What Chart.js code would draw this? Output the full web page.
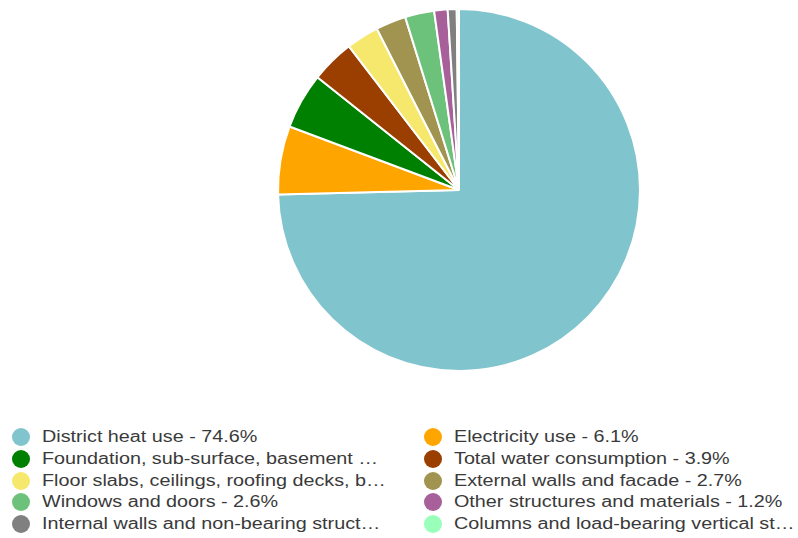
<!DOCTYPE html>
<html>
<head>
<meta charset="utf-8">
<script src="https://cdn.jsdelivr.net/npm/chart.js@4/dist/chart.umd.min.js"></script>
<style>
  html, body { margin: 0; padding: 0; background: #fff; }
  #wrap { position: relative; width: 798px; height: 538px; }
  #chartBox { position: absolute; left: 0; top: 0; width: 798px; height: 380px; }
  #legend { position: absolute; left: 0; top: 426px; width: 798px; margin: 0; padding: 0; list-style: none;
            font-family: "Liberation Sans", Arial, sans-serif; font-size: 16px; color: #3a3a3a; }
  #legend li { position: absolute; height: 22px; line-height: 22px; white-space: nowrap; width: 380px; }
  #legend .dot { position: absolute; left: 0; top: 2px; width: 18px; height: 18px; border-radius: 50%; }
  #legend .txt { position: absolute; left: 30px; top: 0; width: 281px; overflow: hidden; text-overflow: ellipsis;
                 transform: scaleX(1.235); transform-origin: 0 50%; }
</style>
</head>
<body>
<div id="wrap">
  <div id="chartBox"><canvas id="c"></canvas></div>
  <ul id="legend"></ul>
</div>
<script>
// Share of total impact per source (percent)
const categories = [
  "District heat use",
  "Electricity use",
  "Foundation, sub-surface, basement and retaining walls",
  "Total water consumption",
  "Floor slabs, ceilings, roofing decks, beams and roof",
  "External walls and facade",
  "Windows and doors",
  "Other structures and materials",
  "Internal walls and non-bearing structures",
  "Columns and load-bearing vertical structures"
];
const shares = [74.6, 6.1, 5.0, 3.9, 2.9, 2.7, 2.6, 1.2, 0.8, 0.2];
const sliceColors = [
  "#80c4cd", "#ffa500", "#008000", "#9a3f00", "#f6e86c",
  "#a09450", "#6cc27a", "#a8609a", "#808080", "#99ffbb"
];

new Chart(document.getElementById("c"), {
  type: "pie",
  data: {
    labels: categories,
    datasets: [{
      data: shares,
      backgroundColor: sliceColors,
      borderColor: "#ffffff",
      borderWidth: 2
    }]
  },
  options: {
    responsive: true,
    maintainAspectRatio: false,
    animation: false,
    layout: { padding: { left: 120, top: 8, bottom: 8, right: 0 } },
    plugins: {
      legend: { display: false },
      tooltip: { enabled: false }
    }
  }
});

// Two-column legend below the pie
const legend = document.getElementById("legend");
categories.forEach((name, i) => {
  const li = document.createElement("li");
  const col = i % 2, row = Math.floor(i / 2);
  li.style.left = (col === 0 ? 12 : 424) + "px";
  li.style.top = (row * 21.8) + "px";
  const dot = document.createElement("span");
  dot.className = "dot";
  dot.style.background = sliceColors[i];
  const txt = document.createElement("span");
  txt.className = "txt";
  txt.textContent = name + " - " + shares[i].toFixed(1) + "%";
  li.appendChild(dot);
  li.appendChild(txt);
  legend.appendChild(li);
});
</script>
</body>
</html>
